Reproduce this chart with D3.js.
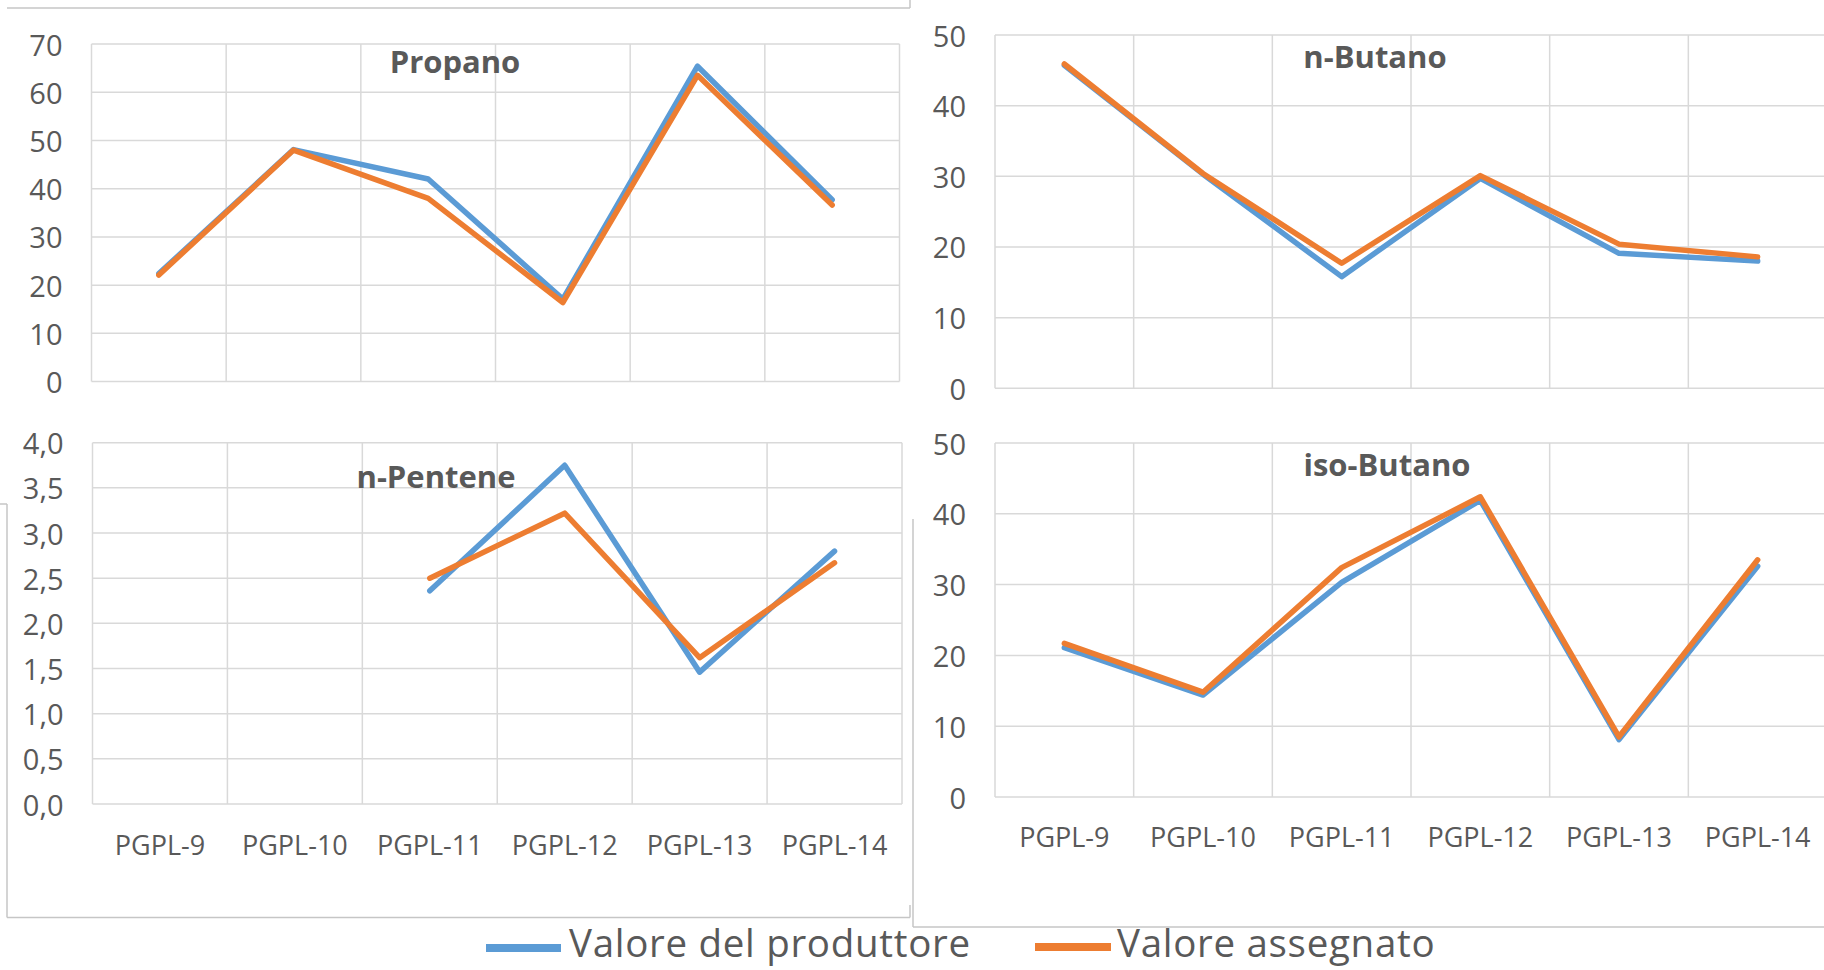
<!DOCTYPE html>
<html>
<head>
<meta charset="utf-8">
<script src="https://cdn.jsdelivr.net/npm/d3@7/dist/d3.min.js"></script>
<style>
html, body { margin: 0; padding: 0; background: #ffffff; }
svg { display: block; }
text { font-family: "Open Sans", "Noto Sans", sans-serif; fill: #595959; }
</style>
</head>
<body>
<svg id="chart" width="1824" height="970"></svg>
<script>
// ---- data ----
const categories = ["PGPL-9", "PGPL-10", "PGPL-11", "PGPL-12", "PGPL-13", "PGPL-14"];
const seriesNames = ["Valore del produttore", "Valore assegnato"];

const propanoProduttore = [22.4, 48.1, 42.0, 17.1, 65.4, 37.7];
const propanoAssegnato  = [22.1, 48.0, 38.0, 16.4, 63.5, 36.6];

const nButanoProduttore = [45.7, 30.3, 15.8, 29.7, 19.1, 18.0];
const nButanoAssegnato  = [45.9, 30.4, 17.7, 30.1, 20.4, 18.6];

const nPenteneProduttore = [null, null, 2.36, 3.75, 1.46, 2.80];
const nPenteneAssegnato  = [null, null, 2.50, 3.22, 1.62, 2.67];

const isoButanoProduttore = [21.1, 14.4, 30.3, 41.9, 8.1, 32.6];
const isoButanoAssegnato  = [21.7, 14.8, 32.4, 42.4, 8.5, 33.5];

const ticksPropano = [0, 10, 20, 30, 40, 50, 60, 70];
const ticksButano = [0, 10, 20, 30, 40, 50];
const ticksPentene = [0, 0.5, 1.0, 1.5, 2.0, 2.5, 3.0, 3.5, 4.0];

// ---- layout / styles ----
const colors = ["#5B9BD5", "#ED7D31"];
const gridColor = "#d9d9d9";
const frameColor = "#c6c6c6";

const panels = [
  { title: "Propano", prod: propanoProduttore, ass: propanoAssegnato, ticks: ticksPropano,
    x0: 91.5, x1: 899.5, y0: 44, y1: 381.6, titleX: 455, titleY: 73, xLabels: false, dec: false },
  { title: "n-Butano", prod: nButanoProduttore, ass: nButanoAssegnato, ticks: ticksButano,
    x0: 995, x1: 1827, y0: 35, y1: 388.3, titleX: 1375, titleY: 68, xLabels: false, dec: false },
  { title: "n-Pentene", prod: nPenteneProduttore, ass: nPenteneAssegnato, ticks: ticksPentene,
    x0: 92.5, x1: 902, y0: 442.7, y1: 804, titleX: 436, titleY: 488, xLabels: true, labelY: 855, dec: true },
  { title: "iso-Butano", prod: isoButanoProduttore, ass: isoButanoAssegnato, ticks: ticksButano,
    x0: 995, x1: 1827, y0: 443, y1: 797, titleX: 1387, titleY: 476, xLabels: true, labelY: 847, dec: false }
];

const svg = d3.select("#chart");

// frame remnants
const frames = [
  [[7, 8], [910, 8]], [[910, 0], [910, 8]],
  [[0, 504], [7, 504]], [[7, 504], [7, 917.5]], [[7, 917.5], [910, 917.5]], [[910, 917.5], [910, 905]],
  [[913, 519], [913, 927]], [[913, 927], [1824, 927]]
];
svg.append("g").selectAll("line").data(frames).join("line")
  .attr("x1", d => d[0][0]).attr("y1", d => d[0][1])
  .attr("x2", d => d[1][0]).attr("y2", d => d[1][1])
  .attr("stroke", frameColor).attr("stroke-width", 1.5);

const fmtComma = v => d3.format(".1f")(v).replace(".", ",");

panels.forEach(p => {
  const g = svg.append("g");
  const x = d3.scaleBand().domain(categories).range([p.x0, p.x1]);
  const y = d3.scaleLinear().domain([0, d3.max(p.ticks)]).range([p.y1, p.y0]);

  // horizontal gridlines
  g.append("g").selectAll("line").data(p.ticks).join("line")
    .attr("x1", p.x0).attr("x2", p.x1)
    .attr("y1", d => y(d)).attr("y2", d => y(d))
    .attr("stroke", gridColor).attr("stroke-width", 1.5);

  // vertical gridlines at band edges
  const edges = categories.map(c => x(c)).concat([p.x1]);
  g.append("g").selectAll("line").data(edges).join("line")
    .attr("x1", d => d).attr("x2", d => d)
    .attr("y1", p.y0).attr("y2", p.y1)
    .attr("stroke", gridColor).attr("stroke-width", 1.5);

  // y tick labels
  g.append("g").selectAll("text").data(p.ticks).join("text")
    .attr("x", p.x0 - 29).attr("y", d => y(d))
    .attr("text-anchor", "end").attr("dominant-baseline", "central")
    .style("font-size", "29px")
    .text(d => p.dec ? fmtComma(d) : d3.format("d")(d));

  // x labels
  if (p.xLabels) {
    g.append("g").selectAll("text").data(categories).join("text")
      .attr("x", d => x(d) + x.bandwidth() / 2).attr("y", p.labelY)
      .attr("text-anchor", "middle")
      .style("font-size", "27px")
      .text(d => d);
  }

  // title
  g.append("text").attr("x", p.titleX).attr("y", p.titleY)
    .attr("text-anchor", "middle")
    .style("font-size", "31px").style("font-weight", "bold")
    .text(p.title);

  // lines
  const line = d3.line()
    .defined(d => d.v !== null)
    .x(d => x(d.c) + x.bandwidth() / 2)
    .y(d => y(d.v));
  [p.prod, p.ass].forEach((vals, i) => {
    const data = categories.map((c, j) => ({ c: c, v: vals[j] }));
    g.append("path").datum(data)
      .attr("d", line)
      .attr("fill", "none")
      .attr("stroke", colors[i])
      .attr("stroke-width", 5.5)
      .attr("stroke-linejoin", "round")
      .attr("stroke-linecap", "round");
  });
});

// legend
const legendItems = [
  { name: seriesNames[0], color: colors[0], lx0: 486, lx1: 561, ly: 948, tx: 569 },
  { name: seriesNames[1], color: colors[1], lx0: 1035, lx1: 1111, ly: 947, tx: 1117 }
];
const lg = svg.append("g");
lg.selectAll("line").data(legendItems).join("line")
  .attr("x1", d => d.lx0).attr("x2", d => d.lx1)
  .attr("y1", d => d.ly).attr("y2", d => d.ly)
  .attr("stroke", d => d.color).attr("stroke-width", 8);
lg.selectAll("text").data(legendItems).join("text")
  .attr("x", d => d.tx).attr("y", 957)
  .style("font-size", "38.5px")
  .style("letter-spacing", "0.7px")
  .text(d => d.name);
</script>
</body>
</html>
